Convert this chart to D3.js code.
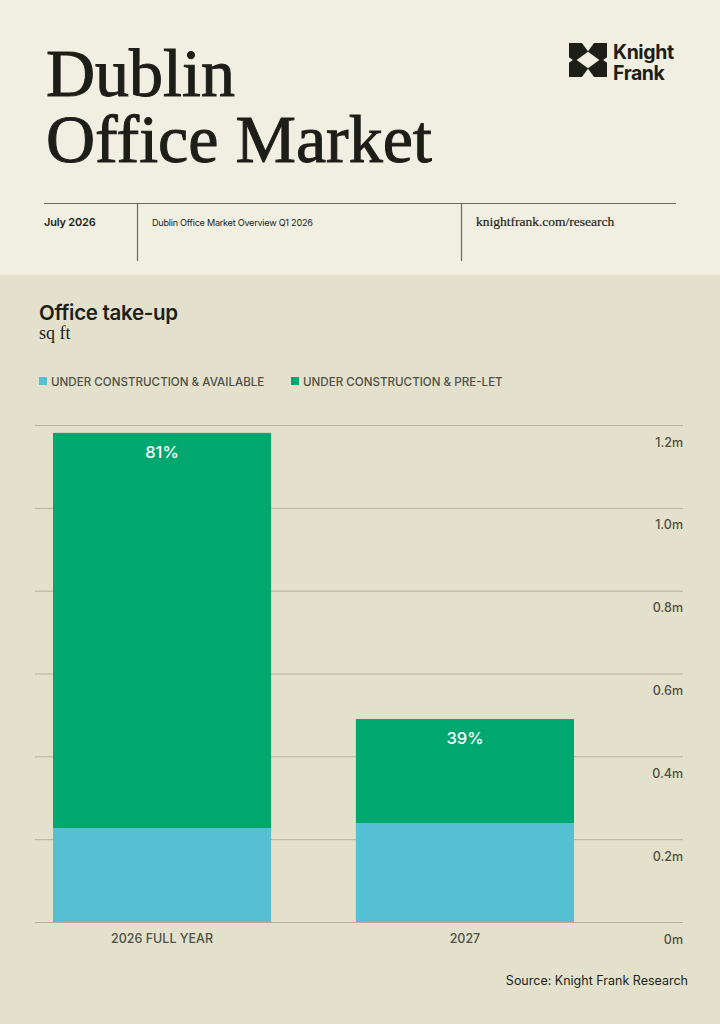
<!DOCTYPE html>
<html>
<head>
<meta charset="utf-8">
<script src="https://cdn.jsdelivr.net/npm/d3@7"></script>
<style>
  html, body { margin: 0; padding: 0; background: #e3e1cb; }
  svg { display: block; }
</style>
</head>
<body>
<div id="chart"></div>
<script>
// data (millions sq ft)
const categories = ["2026 FULL YEAR", "2027"];
const seriesNames = ["UNDER CONSTRUCTION & AVAILABLE", "UNDER CONSTRUCTION & PRE-LET"];
const available = [0.227, 0.239];
const preLet = [0.954, 0.251];
const preLetLabels = ["81%", "39%"];
const yTicks = [0, 0.2, 0.4, 0.6, 0.8, 1.0, 1.2];
const yTickLabels = ["0m", "0.2m", "0.4m", "0.6m", "0.8m", "1.0m", "1.2m"];

const W = 720, H = 1024;
const colors = ["#55bfd3", "#00a870"];
const ink = "#1e1e19";
const grey = "#4f4f46";
const sans = "Inter, 'Liberation Sans', sans-serif";
const serif = "'Liberation Serif', serif";

const svg = d3.select("#chart").append("svg")
  .attr("width", W).attr("height", H);

// header panel
svg.append("rect").attr("width", W).attr("height", 275).attr("fill", "#f0efe2");
svg.append("rect").attr("y", 275).attr("width", W).attr("height", H - 275).attr("fill", "#e3e1cb");

const title = svg.append("text")
  .attr("font-family", serif).attr("font-size", 68).attr("fill", ink)
  .attr("stroke", ink).attr("stroke-width", 1);
title.append("tspan").attr("x", 46).attr("y", 96).text("Dublin");
title.append("tspan").attr("x", 46).attr("y", 162).text("Office Market");

// logo
const logo = svg.append("g").attr("transform", "translate(569,43)");
const s = 38, h = 34;
logo.append("rect").attr("width", s).attr("height", h).attr("fill", ink);
const holes = [
  [[s * 0.34, 0], [s * 0.66, 0], [s * 0.5, h * 0.24]],
  [[s * 0.34, h], [s * 0.66, h], [s * 0.5, h * 0.76]],
  [[s * 0.5, h * 0.26], [s * 0.8, h * 0.5], [s * 0.5, h * 0.74], [s * 0.2, h * 0.5]],
  [[0, h * 0.42], [s * 0.1, h * 0.5], [0, h * 0.58]],
  [[s, h * 0.42], [s * 0.9, h * 0.5], [s, h * 0.58]]
];
logo.selectAll("path.hole").data(holes).enter().append("path")
  .attr("d", d => "M" + d.join("L") + "Z").attr("fill", "#f0efe2");
const logoText = svg.append("text")
  .attr("font-family", sans).attr("font-weight", 700).attr("font-size", 19.5)
  .attr("fill", ink).attr("letter-spacing", -0.4);
logoText.append("tspan").attr("x", 613).attr("y", 59).text("Knight");
logoText.append("tspan").attr("x", 613).attr("y", 80).text("Frank");

// header rule and dividers
const rule = svg.append("g").attr("stroke", "#6b6b5e").attr("stroke-width", 1.2);
rule.append("line").attr("x1", 44).attr("x2", 676).attr("y1", 203.5).attr("y2", 203.5);
rule.append("line").attr("x1", 137.5).attr("x2", 137.5).attr("y1", 203).attr("y2", 261);
rule.append("line").attr("x1", 461.5).attr("x2", 461.5).attr("y1", 203).attr("y2", 261);

svg.append("text").attr("x", 44).attr("y", 226)
  .attr("font-family", sans).attr("font-weight", 600).attr("font-size", 11)
  .attr("fill", ink).attr("letter-spacing", -0.2).text("July 2026");
svg.append("text").attr("x", 152).attr("y", 226)
  .attr("font-family", sans).attr("font-size", 9.1)
  .attr("fill", ink).attr("letter-spacing", -0.25).text("Dublin Office Market Overview Q1 2026");
svg.append("text").attr("x", 476).attr("y", 226)
  .attr("font-family", serif).attr("font-size", 13.5)
  .attr("fill", ink).attr("stroke", ink).attr("stroke-width", 0.2)
  .text("knightfrank.com/research");

// chart title
svg.append("text").attr("x", 39).attr("y", 320)
  .attr("font-family", sans).attr("font-weight", 600).attr("font-size", 20.5)
  .attr("fill", ink).attr("letter-spacing", -0.3).text("Office take-up");
svg.append("text").attr("x", 39).attr("y", 339)
  .attr("font-family", serif).attr("font-size", 18)
  .attr("fill", ink).text("sq ft");

// legend
const legendX = [39, 291];
const legend = svg.selectAll("g.legend").data(seriesNames).enter().append("g")
  .attr("transform", (d, i) => `translate(${legendX[i]},377)`);
legend.append("rect").attr("width", 8).attr("height", 8).attr("fill", (d, i) => colors[i]);
legend.append("text").attr("x", 12).attr("y", 8.5)
  .attr("font-family", sans).attr("font-weight", 500).attr("font-size", 11.6)
  .attr("fill", grey)
  .text(d => d);

// scales
const y = d3.scaleLinear().domain([0, 1.2]).range([922, 425]);
const x = d3.scaleBand().domain(categories).range([53, 574])
  .paddingInner(0.28).paddingOuter(0);

// grid + y axis on the right
const yAxis = svg.append("g")
  .attr("transform", "translate(683,0)")
  .call(d3.axisLeft(y).tickValues(yTicks).tickSize(648)
    .tickFormat((d, i) => yTickLabels[i]));
yAxis.select(".domain").remove();
yAxis.selectAll("line").attr("stroke", "#b4b09c").attr("stroke-width", 1);
yAxis.selectAll("text")
  .attr("x", 0).attr("dy", 0).attr("y", 21)
  .attr("text-anchor", "end")
  .attr("font-family", sans).attr("font-weight", 500).attr("font-size", 12.5)
  .attr("fill", grey);

// stacked bars
const stack = d3.stack().keys([0, 1]).value((d, k) => d[k]);
const rows = categories.map((c, i) => Object.assign([available[i], preLet[i]], { cat: c }));
const layers = stack(rows);

svg.append("g").selectAll("g").data(layers).enter().append("g")
  .attr("fill", (d, i) => colors[i])
  .selectAll("rect").data(d => d).enter().append("rect")
  .attr("x", d => x(d.data.cat))
  .attr("width", x.bandwidth())
  .attr("y", d => y(d[1]))
  .attr("height", d => y(d[0]) - y(d[1]));

svg.append("g").selectAll("text").data(layers[1]).enter().append("text")
  .attr("x", d => x(d.data.cat) + x.bandwidth() / 2)
  .attr("y", d => y(d[1]) + 25)
  .attr("text-anchor", "middle")
  .attr("font-family", sans).attr("font-weight", 500).attr("font-size", 16.5)
  .attr("fill", "#ffffff")
  .text((d, i) => preLetLabels[i]);

// x axis labels
const xAxis = svg.append("g")
  .attr("transform", "translate(0,922)")
  .call(d3.axisBottom(x).tickSize(0).tickPadding(12));
xAxis.select(".domain").remove();
xAxis.selectAll("text")
  .attr("font-family", sans).attr("font-weight", 500).attr("font-size", 12.5)
  .attr("fill", grey);

svg.append("text").attr("x", 688).attr("y", 985)
  .attr("text-anchor", "end")
  .attr("font-family", sans).attr("font-size", 12.5).attr("fill", ink)
  .text("Source: Knight Frank Research");
</script>
</body>
</html>
